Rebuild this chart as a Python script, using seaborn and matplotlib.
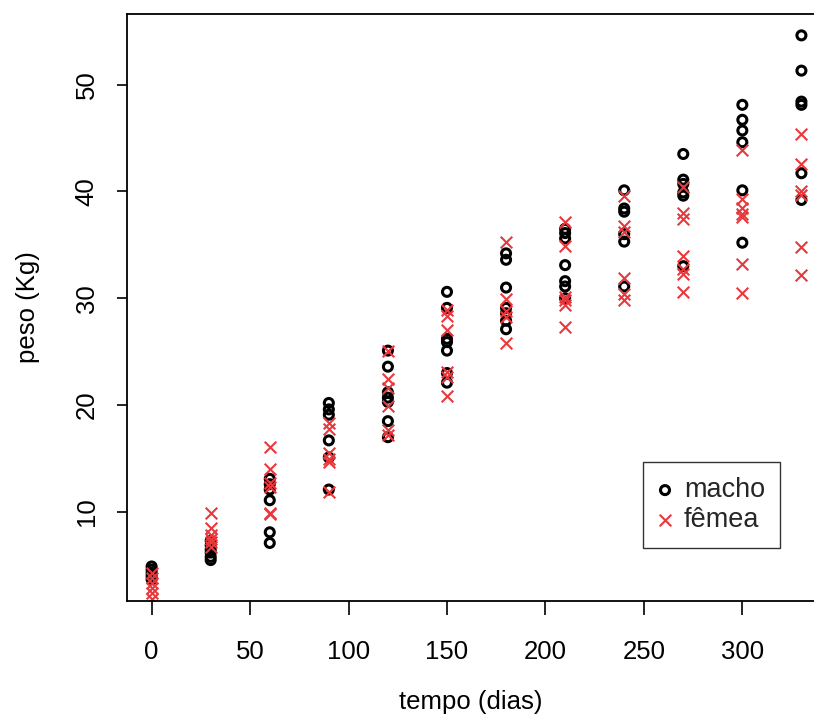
import numpy as np
import pandas as pd
import matplotlib
matplotlib.use("Agg")
import matplotlib.pyplot as plt
import seaborn as sns

# peso (Kg), por tempo (dias)
tempos = [0, 30, 60, 90, 120, 150, 180, 210, 240, 270, 300, 330]

macho = [
    [4.9, 4.6, 4.3, 4.0, 3.7],
    [7.3, 6.9, 6.5, 6.2, 5.8, 5.5],
    [13.1, 12.6, 12.1, 11.1, 8.1, 7.1],
    [20.2, 19.6, 19.1, 16.7, 15.1, 12.1],
    [25.1, 23.6, 21.2, 20.7, 20.3, 18.5, 17.0],
    [30.6, 29.1, 26.2, 25.9, 25.1, 23.0, 22.1],
    [34.2, 33.6, 31.0, 29.1, 28.6, 27.9, 27.1],
    [36.5, 36.1, 35.6, 33.1, 31.6, 31.1, 30.0],
    [40.1, 38.4, 38.1, 36.0, 35.3, 31.1],
    [43.5, 41.1, 40.7, 39.9, 39.6, 33.0],
    [48.1, 46.7, 45.7, 44.6, 40.1, 35.2],
    [54.6, 51.3, 48.4, 48.1, 41.7, 39.2],
]

femea = [
    [4.3, 3.8, 3.4, 2.9, 2.4, 1.9],
    [9.9, 8.5, 7.8, 7.5, 7.2, 6.7],
    [16.1, 14.0, 12.7, 12.3, 9.9, 9.8],
    [18.3, 17.8, 15.5, 15.0, 14.7, 11.9],
    [25.1, 22.4, 21.6, 19.9, 17.7, 17.2],
    [28.9, 28.3, 27.0, 23.1, 22.6, 20.9],
    [35.3, 29.9, 28.8, 28.2, 25.8],
    [37.1, 34.9, 30.1, 29.8, 29.4, 27.3],
    [39.6, 36.8, 36.2, 31.9, 30.4, 29.8],
    [40.4, 38.0, 37.4, 34.0, 32.7, 32.3, 30.6],
    [43.9, 39.3, 38.4, 37.9, 37.6, 33.2, 30.5],
    [45.4, 42.6, 40.0, 39.7, 34.8, 32.2],
]


def long_df(grupos):
    linhas = []
    for t, pesos in zip(tempos, grupos):
        for p in pesos:
            linhas.append({"tempo": t, "peso": p})
    return pd.DataFrame(linhas)


df_m = long_df(macho)
df_f = long_df(femea)

sns.set_style("ticks")
plt.rcParams["font.family"] = ["Liberation Sans", "DejaVu Sans"]

fig = plt.figure(figsize=(8.14, 7.22), dpi=100)
ax = fig.add_axes([127 / 814, 121 / 722, 701 / 814, 587 / 722])

sns.scatterplot(data=df_m, x="tempo", y="peso", ax=ax, marker="o",
                facecolor="none", edgecolor="black", linewidth=2.2, s=42,
                label="macho")
sns.scatterplot(data=df_f, x="tempo", y="peso", ax=ax, marker="x",
                color="#e8383c", linewidth=1.5, s=70, label="fêmea")

ax.set_xlim(-12.5, 343.5)
ax.set_ylim(1.67, 56.6)
ax.set_xticks([0, 50, 100, 150, 200, 250, 300])
ax.set_yticks([10, 20, 30, 40, 50])

for s in ax.spines.values():
    s.set_color("black")
    s.set_linewidth(1.3)

ax.tick_params(axis="x", length=10, width=1.2, pad=18, labelsize=18.5,
               colors="black")
ax.tick_params(axis="y", length=7.5, width=1.2, pad=13, labelsize=18.5,
               colors="black")
for lab in ax.get_yticklabels():
    lab.set_rotation(90)
    lab.set_va("center")

ax.set_xlabel("tempo (dias)", fontsize=18.5, color="black")
ax.set_ylabel("peso (Kg)", fontsize=18.5, color="black")
ax.xaxis.set_label_coords(0.49, -0.152)
ax.yaxis.set_label_coords(-0.124, 0.5)

leg = ax.legend(loc="lower right", bbox_to_anchor=(0.9315, 0.09),
                borderaxespad=0, fancybox=False, frameon=True,
                fontsize=19.5, handlelength=0.5, handletextpad=0.45,
                borderpad=0.55, labelspacing=0.15)
leg.get_frame().set_edgecolor("black")
leg.get_frame().set_linewidth(1.0)

fig.savefig("out.png", dpi=100)
